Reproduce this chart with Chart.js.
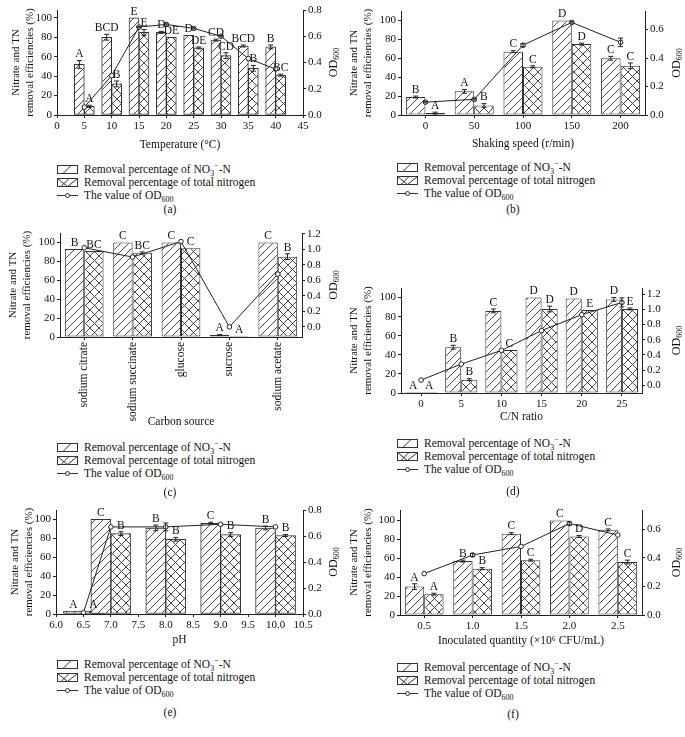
<!DOCTYPE html>
<html>
<head>
<meta charset="utf-8">
<script src="https://cdn.jsdelivr.net/npm/chart.js@4/dist/chart.umd.min.js"></script>
<style>
  body { margin: 0; background: #fff; }
  #wrap { position: relative; width: 685px; height: 737px; background: #fff; overflow: hidden;
          font-family: "Liberation Serif", "DejaVu Serif", serif; color: #111; }
  canvas { position: absolute; }
  .leg { position: absolute; font-size: 11.5px; line-height: 13px; }
  .leg .row { display: flex; align-items: center; height: 13px; white-space: nowrap; }
  .leg svg { margin-right: 6px; flex: none; }
  .leg sub, .leg sup { font-size: 8px; line-height: 0; }
  .cap { position: absolute; width: 40px; margin-left: -20px; text-align: center; font-size: 11.5px; }
</style>
</head>
<body>
<div id="wrap">
  <canvas id="cA" width="340" height="155" style="left:0;top:0"></canvas>
  <canvas id="cB" width="345" height="155" style="left:340px;top:0"></canvas>
  <canvas id="cC" width="340" height="212" style="left:0;top:220px"></canvas>
  <canvas id="cD" width="345" height="157" style="left:340px;top:270px"></canvas>
  <canvas id="cE" width="340" height="155" style="left:0;top:495px"></canvas>
  <canvas id="cF" width="345" height="156" style="left:340px;top:495px"></canvas>
</div>
<script>
// (a) temperature
const tempX = [5, 10, 15, 20, 25, 30, 35, 40];
const tempNitrate = [52, 80, 100, 85, 82, 77, 71, 70];
const tempTN = [9, 32, 85, 80, 69, 61, 48, 41];
const tempOD = [0.06, 0.30, 0.67, 0.69, 0.66, 0.60, 0.43, 0.35];
const tempNitrateErr = [4, 3, 0, 1, 0, 1, 1, 2];
const tempTNErr = [1, 3, 3, 0, 1, 3, 3, 1];
const tempODErr = [0, 0, 0.005, 0.005, 0.005, 0.005, 0, 0];
const tempNitrateLetters = ['A', 'BCD', 'E', 'D', 'D', 'CD', 'BCD', 'B'];
const tempTNLetters = ['A', 'B', 'E', 'DE', 'DE', 'CD', 'B', 'BC'];

// (b) shaking speed
const speedLabels = ['0', '50', '100', '150', '200'];
const speedNitrate = [19, 25, 67, 100, 60];
const speedTN = [2, 10, 51, 75, 52];
const speedOD = [0.09, 0.11, 0.49, 0.65, 0.51];
const speedNitrateErr = [1, 2, 1, 0, 2];
const speedTNErr = [1, 2, 1, 1, 3];
const speedODErr = [0.005, 0.005, 0.01, 0.005, 0.03];
const speedNitrateLetters = ['B', 'A', 'C', 'D', 'C'];
const speedTNLetters = ['A', 'B', 'C', 'D', 'C'];

// (c) carbon source
const carbonLabels = ['sodium citrate', 'sodium succinate', 'glucose', 'sucrose', 'sodium acetate'];
const carbonNitrate = [93, 100, 100, 2, 100];
const carbonTN = [91, 89, 94, 1, 85];
const carbonOD = [1.02, 0.90, 1.10, 0.0, 0.68];
const carbonNitrateErr = [0, 0, 0, 0.5, 0];
const carbonTNErr = [0, 1, 0, 0, 3];
const carbonODErr = [0, 0, 0, 0, 0];
const carbonNitrateLetters = ['B', 'C', 'C', 'A', 'C'];
const carbonTNLetters = ['BC', 'BC', 'C', 'A', 'B'];

// (d) C/N ratio
const cnLabels = ['0', '5', '10', '15', '20', '25'];
const cnNitrate = [1, 48, 86, 100, 99, 98];
const cnTN = [1, 14, 45, 88, 87, 88];
const cnOD = [0.07, 0.28, 0.46, 0.72, 0.93, 1.09];
const cnNitrateErr = [0, 2, 2, 0, 0, 2];
const cnTNErr = [0, 1, 0, 3, 0, 1];
const cnODErr = [0, 0, 0, 0, 0, 0.06];
const cnNitrateLetters = ['A', 'B', 'C', 'D', 'D', 'D'];
const cnTNLetters = ['A', 'B', 'C', 'D', 'E', 'E'];

// (e) pH
const phX = [6.5, 7, 8, 9, 10];
const phNitrate = [3, 100, 91, 96, 91];
const phTN = [3, 85, 79, 84, 83];
const phOD = [0.01, 0.67, 0.67, 0.69, 0.67];
const phNitrateErr = [0, 0, 3, 1, 2];
const phTNErr = [0, 2, 2, 2, 1];
const phODErr = [0, 0, 0.03, 0, 0];
const phNitrateLetters = ['A', 'C', 'B', 'C', 'B'];
const phTNLetters = ['A', 'B', 'B', 'B', 'B'];

// (f) inoculated quantity
const inocLabels = ['0.5', '1.0', '1.5', '2.0', '2.5'];
const inocNitrate = [30, 57, 86, 100, 90];
const inocTN = [22, 49, 58, 83, 56];
const inocOD = [0.29, 0.42, 0.48, 0.64, 0.56];
const inocNitrateErr = [3, 1, 1, 0, 1];
const inocTNErr = [1, 1, 1, 1, 2];
const inocODErr = [0, 0.01, 0, 0.01, 0];
const inocNitrateLetters = ['A', 'B', 'C', 'C', 'C'];
const inocTNLetters = ['A', 'B', 'C', 'D', 'C'];

const SERIF = '"Liberation Serif", "DejaVu Serif", serif';
const INK = '#222';
Chart.defaults.font.family = SERIF;
Chart.defaults.font.size = 11;
Chart.defaults.color = '#111';

function hatch(cross) {
    const s = cross ? 9 : 8;
    const c = document.createElement('canvas');
    c.width = s; c.height = s;
    const g = c.getContext('2d');
    g.fillStyle = '#fff';
    g.fillRect(0, 0, s, s);
    g.strokeStyle = '#333';
    g.lineWidth = 0.9;
    g.beginPath();
    g.moveTo(-1, s + 1); g.lineTo(s + 1, -1);
    g.moveTo(-1, 1); g.lineTo(1, -1);
    g.moveTo(s - 1, s + 1); g.lineTo(s + 1, s - 1);
    if (cross) {
        g.moveTo(-1, -1); g.lineTo(s + 1, s + 1);
        g.moveTo(-1, s - 1); g.lineTo(1, s + 1);
        g.moveTo(s - 1, -1); g.lineTo(s + 1, 1);
    }
    g.stroke();
    return g.createPattern(c, 'repeat');
}
const slashFill = hatch(false);
const crossFill = hatch(true);

// error bars + significance letters
const marks = {
    id: 'marks',
    afterDatasetsDraw(chart) {
        const ctx = chart.ctx;
        chart.data.datasets.forEach((ds, di) => {
            const meta = chart.getDatasetMeta(di);
            const ys = chart.scales[ds.yAxisID];
            meta.data.forEach((el, i) => {
                const raw = ds.data[i];
                const v = typeof raw === 'object' ? raw.y : raw;
                const e = ds.errors ? ds.errors[i] : 0;
                let top = el.y;
                ctx.save();
                ctx.strokeStyle = INK;
                ctx.lineWidth = 1;
                if (e > 0) {
                    const yt = ys.getPixelForValue(v + e);
                    const yb = ys.getPixelForValue(v - e);
                    ctx.beginPath();
                    ctx.moveTo(el.x, yt); ctx.lineTo(el.x, yb);
                    ctx.moveTo(el.x - 2.5, yt); ctx.lineTo(el.x + 2.5, yt);
                    ctx.moveTo(el.x - 2.5, yb); ctx.lineTo(el.x + 2.5, yb);
                    ctx.stroke();
                    top = Math.min(top, yt);
                }
                if (ds.letters) {
                    ctx.fillStyle = '#111';
                    ctx.font = '11.5px ' + SERIF;
                    ctx.textAlign = 'center';
                    ctx.textBaseline = 'bottom';
                    ctx.fillText(ds.letters[i], el.x, top - 0.5);
                }
                ctx.restore();
            });
        });
    }
};

// right axis title OD600, read bottom to top
const odTitle = {
    id: 'odTitle',
    afterDraw(chart) {
        const ctx = chart.ctx;
        const s = chart.scales.y1;
        const x = s.right - chart.options.odX;
        const y = (chart.chartArea.top + chart.chartArea.bottom) / 2;
        ctx.save();
        ctx.translate(x, y);
        ctx.rotate(-Math.PI / 2);
        ctx.fillStyle = '#111';
        ctx.textBaseline = 'middle';
        ctx.font = '12px ' + SERIF;
        const w1 = ctx.measureText('OD').width;
        ctx.font = '8px ' + SERIF;
        const w2 = ctx.measureText('600').width;
        const x0 = -(w1 + w2) / 2;
        ctx.font = '12px ' + SERIF;
        ctx.fillText('OD', x0, 0);
        ctx.font = '8px ' + SERIF;
        ctx.fillText('600', x0 + w1, 3);
        ctx.restore();
    }
};

const axisLine = { display: true, color: INK, width: 1 };
const tickGrid = { display: true, drawOnChartArea: false, drawTicks: true, tickLength: 3, color: INK, offset: false };

function panel(o) {
    const linear = !!o.xs;
    const pts = (vals) => linear ? o.xs.map((x, i) => ({ x: x, y: vals[i] })) : vals;
    const xScale = linear ? {
        type: 'linear', min: o.xMin, max: o.xMax, offset: false,
        ticks: { stepSize: o.xStep, autoSkip: false, padding: 2, callback: o.xFmt },
    } : {
        type: 'category', offset: true,
        ticks: { autoSkip: false, padding: 2, minRotation: o.rot || 0, maxRotation: o.rot || 0,
                 font: { size: o.rot ? 11.5 : 11 } },
    };
    xScale.grid = tickGrid;
    xScale.border = axisLine;
    xScale.title = { display: true, text: o.xTitle, font: { size: 11.5 }, padding: { top: 0, bottom: o.xTitlePad } };
    xScale.afterFit = (s) => { s.height = o.xh; };

    const barCommon = { type: 'bar', yAxisID: 'y', order: 1, borderColor: '#333', borderWidth: 1,
                        borderSkipped: false, barThickness: o.barW, categoryPercentage: 0.8, barPercentage: 1 };

    new Chart(document.getElementById(o.id), {
        data: {
            labels: o.labels,
            datasets: [
                { type: 'line', label: 'The value of OD600', data: pts(o.od), yAxisID: 'y1', order: 0,
                  borderColor: INK, borderWidth: 1, pointRadius: 2.3, pointBackgroundColor: '#fff',
                  pointBorderColor: INK, pointBorderWidth: 1, errors: o.odErr },
                Object.assign({ label: 'Removal percentage of NO3--N', data: pts(o.nitrate),
                  backgroundColor: slashFill, errors: o.nitrateErr, letters: o.nitrateLetters }, barCommon),
                Object.assign({ label: 'Removal percentage of total nitrogen', data: pts(o.tn),
                  backgroundColor: crossFill, errors: o.tnErr, letters: o.tnLetters }, barCommon),
            ]
        },
        options: {
            responsive: false,
            animation: false,
            odX: o.odX,
            layout: { padding: { top: o.top, left: 0, right: 0, bottom: 0 } },
            plugins: { legend: { display: false }, tooltip: { enabled: false } },
            scales: {
                x: xScale,
                y: {
                    position: 'left', min: 0, max: o.yMax,
                    ticks: { stepSize: 20, includeBounds: false, padding: 2 },
                    grid: tickGrid, border: axisLine,
                    title: { display: true, text: ['Nitrate and TN', 'removal efficiencies (%)'],
                             font: { size: 11, lineHeight: 1.2 }, padding: { top: o.yTitlePad, bottom: 0 } },
                    afterFit: (s) => { s.width = o.lw; },
                },
                y1: {
                    position: 'right', min: o.odMin, max: o.odMax,
                    ticks: { stepSize: o.odStep, includeBounds: false, padding: 2, callback: (v) => v.toFixed(1) },
                    grid: tickGrid, border: axisLine,
                    afterFit: (s) => { s.width = o.rw; },
                }
            }
        },
        plugins: [marks, odTitle]
    });
}

panel({ id: 'cA', xs: tempX, xMin: 0, xMax: 45, xStep: 5, xFmt: (v) => v, barW: 10,
        nitrate: tempNitrate, tn: tempTN, od: tempOD, nitrateErr: tempNitrateErr, tnErr: tempTNErr, odErr: tempODErr,
        nitrateLetters: tempNitrateLetters, tnLetters: tempTNLetters, xTitle: 'Temperature (°C)',
        yMax: 108, odMin: 0, odMax: 0.8, odStep: 0.1, lw: 57, rw: 37, xh: 40, top: 10,
        xTitlePad: 3, yTitlePad: 10, odX: 6 });

panel({ id: 'cB', labels: speedLabels, nitrate: speedNitrate, tn: speedTN, od: speedOD,
        nitrateErr: speedNitrateErr, tnErr: speedTNErr, odErr: speedODErr,
        nitrateLetters: speedNitrateLetters, tnLetters: speedTNLetters, xTitle: 'Shaking speed (r/min)',
        yMax: 110, odMin: 0, odMax: 0.73, odStep: 0.1, lw: 61, rw: 40, xh: 40, top: 11,
        xTitlePad: 4, yTitlePad: 8, odX: 8 });

panel({ id: 'cC', labels: carbonLabels, rot: 90, nitrate: carbonNitrate, tn: carbonTN, od: carbonOD,
        nitrateErr: carbonNitrateErr, tnErr: carbonTNErr, odErr: carbonODErr,
        nitrateLetters: carbonNitrateLetters, tnLetters: carbonTNLetters, xTitle: 'Carbon source',
        yMax: 110, odMin: -0.13, odMax: 1.21, odStep: 0.2, lw: 60, rw: 38, xh: 95, top: 13,
        xTitlePad: 3, yTitlePad: 7, odX: 6 });

panel({ id: 'cD', labels: cnLabels, nitrate: cnNitrate, tn: cnTN, od: cnOD,
        nitrateErr: cnNitrateErr, tnErr: cnTNErr, odErr: cnODErr,
        nitrateLetters: cnNitrateLetters, tnLetters: cnTNLetters, xTitle: 'C/N ratio',
        yMax: 110, odMin: -0.1, odMax: 1.28, odStep: 0.2, lw: 61, rw: 43, xh: 34, top: 18,
        xTitlePad: 3, yTitlePad: 8, odX: 8 });

panel({ id: 'cE', xs: phX, xMin: 6, xMax: 10.5, xStep: 0.5, xFmt: (v) => v.toFixed(1), barW: 20,
        nitrate: phNitrate, tn: phTN, od: phOD, nitrateErr: phNitrateErr, tnErr: phTNErr, odErr: phODErr,
        nitrateLetters: phNitrateLetters, tnLetters: phTNLetters, xTitle: 'pH',
        yMax: 110, odMin: 0, odMax: 0.8, odStep: 0.1, lw: 56, rw: 37, xh: 36, top: 15,
        xTitlePad: 3, yTitlePad: 9, odX: 6 });

panel({ id: 'cF', labels: inocLabels, nitrate: inocNitrate, tn: inocTN, od: inocOD,
        nitrateErr: inocNitrateErr, tnErr: inocTNErr, odErr: inocODErr,
        nitrateLetters: inocNitrateLetters, tnLetters: inocTNLetters, xTitle: 'Inoculated quantity (×10⁶ CFU/mL)',
        yMax: 111, odMin: 0, odMax: 0.735, odStep: 0.1, lw: 60, rw: 43, xh: 36, top: 15,
        xTitlePad: 3, yTitlePad: 8, odX: 8 });

// legends and captions
const legendRows =
    '<div class="row"><svg width="21" height="9"><rect x="0.5" y="0.5" width="20" height="8" fill="#fff" stroke="#333"/>' +
    '<line x1="6" y1="8.5" x2="14" y2="0.5" stroke="#333"/></svg><span>Removal percentage of NO<sub>3</sub><sup>−</sup>-N</span></div>' +
    '<div class="row"><svg width="21" height="9"><rect x="0.5" y="0.5" width="20" height="8" fill="#fff" stroke="#333"/>' +
    '<polyline points="0.5,0.5 10.5,8.5 20.5,0.5" fill="none" stroke="#333"/><line x1="4" y1="8.5" x2="12" y2="0.5" stroke="#333"/></svg>' +
    '<span>Removal percentage of total nitrogen</span></div>' +
    '<div class="row"><svg width="21" height="9"><line x1="0" y1="4.5" x2="21" y2="4.5" stroke="#333"/>' +
    '<circle cx="10.5" cy="4.5" r="2" fill="#fff" stroke="#333"/></svg><span>The value of OD<sub>600</sub></span></div>';
const legendSpots = [[57, 163], [397, 161], [57, 441], [397, 437], [57, 658], [397, 661]];
const captions = [['(a)', 170, 203], ['(b)', 513, 203], ['(c)', 170, 486], ['(d)', 513, 485], ['(e)', 170, 706], ['(f)', 513, 708]];
const wrap = document.getElementById('wrap');
legendSpots.forEach(([l, t]) => {
    const d = document.createElement('div');
    d.className = 'leg';
    d.style.left = l + 'px';
    d.style.top = t + 'px';
    d.innerHTML = legendRows;
    wrap.appendChild(d);
});
captions.forEach(([txt, x, y]) => {
    const d = document.createElement('div');
    d.className = 'cap';
    d.style.left = x + 'px';
    d.style.top = y + 'px';
    d.textContent = txt;
    wrap.appendChild(d);
});
</script>
</body>
</html>
